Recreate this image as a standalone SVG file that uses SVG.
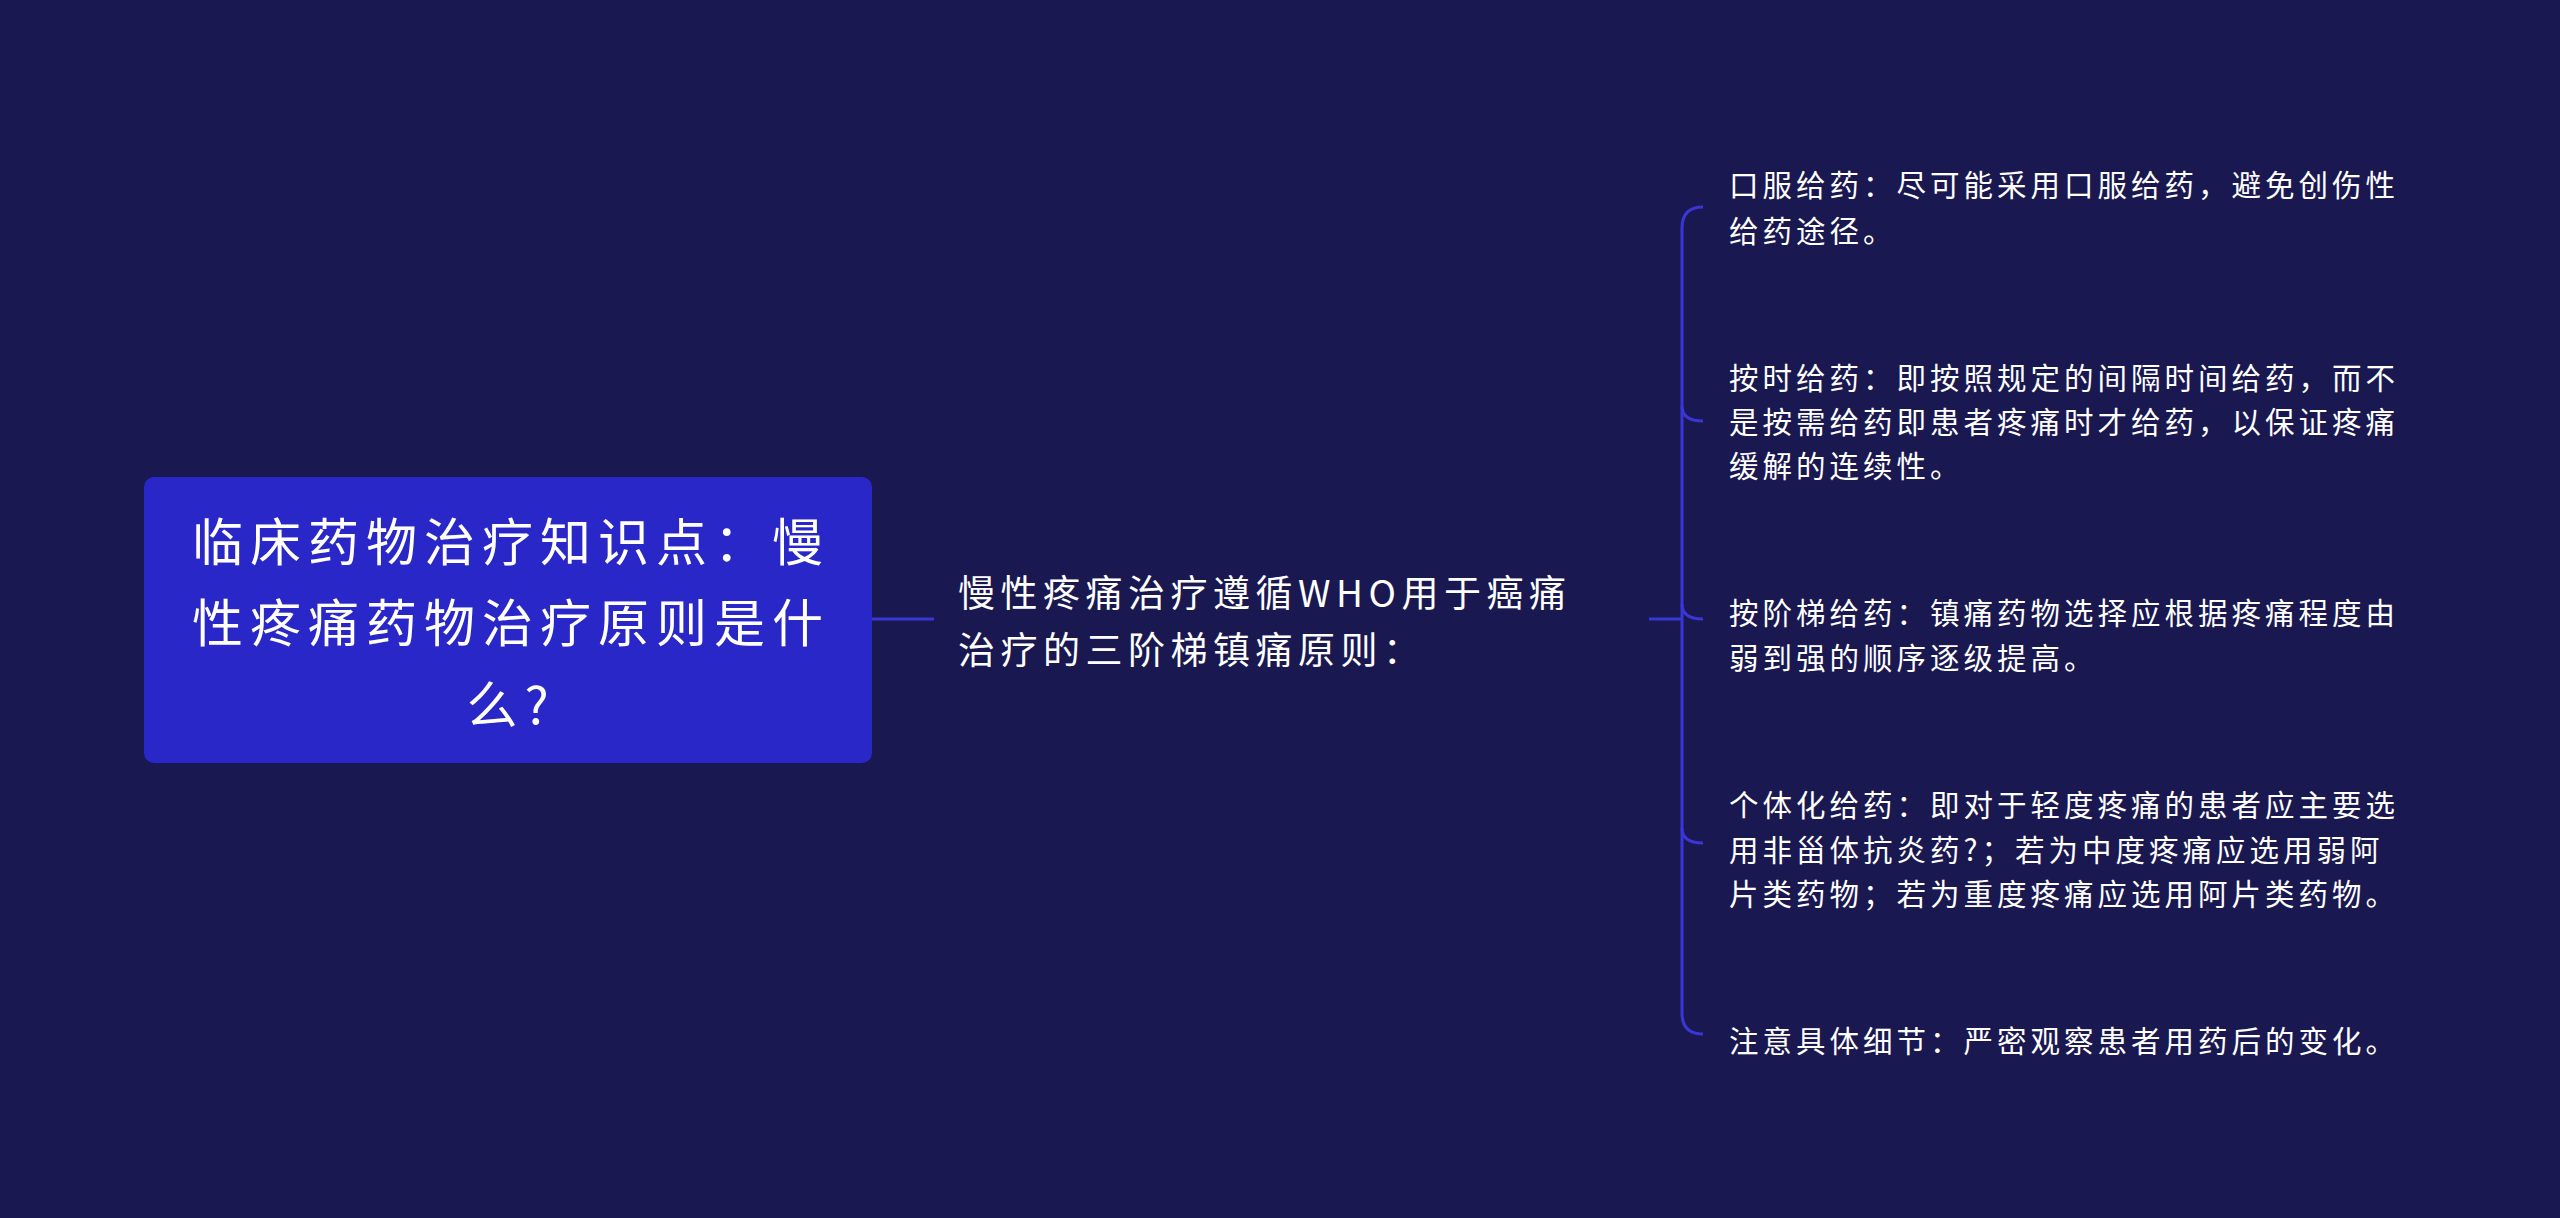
<svg xmlns="http://www.w3.org/2000/svg" width="2560" height="1218" viewBox="0 0 2560 1218">
<style>
text{font-family:"Noto Sans CJK SC","Noto Sans",sans-serif;fill:#fff;dominant-baseline:central}
.r{font-size:51px;letter-spacing:7px}
.m{font-size:37px;letter-spacing:5.5px}
.l{font-size:29.5px;letter-spacing:4px}
.c{fill:none;stroke:#3a36d6;stroke-width:3}
</style>
<rect width="2560" height="1218" fill="#1a1850"/>
<g id="connectors">
<path class="c" d="M872 619H934"/>
<path class="c" d="M1649 619H1682"/>
<path class="c" d="M1703 207Q1682 207 1682 228V1013Q1682 1034 1703 1034"/>
<path class="c" d="M1682 406Q1682 421 1703 421"/>
<path class="c" d="M1682 604Q1682 619 1703 619"/>
<path class="c" d="M1682 828Q1682 843 1703 843"/>
</g>
<g id="root">
<rect x="144" y="477" width="728" height="286" rx="10" fill="#2a27c8"/>
<text class="r" x="511" y="539" text-anchor="middle">临床药物治疗知识点：慢</text>
<text class="r" x="511" y="620" text-anchor="middle">性疼痛药物治疗原则是什</text>
<text class="r" x="511" y="702" text-anchor="middle">么?</text>
</g>
<g id="middle">
<text class="m" x="958" y="591">慢性疼痛治疗遵循WHO用于癌痛</text>
<text class="m" x="958" y="648">治疗的三阶梯镇痛原则：</text>
</g>
<g id="leaf1"><text class="l" x="1729" y="183">口服给药：尽可能采用口服给药，避免创伤性</text><text class="l" x="1729" y="229">给药途径。</text></g>
<g id="leaf2"><text class="l" x="1729" y="376">按时给药：即按照规定的间隔时间给药，而不</text><text class="l" x="1729" y="420">是按需给药即患者疼痛时才给药，以保证疼痛</text><text class="l" x="1729" y="464">缓解的连续性。</text></g>
<g id="leaf3"><text class="l" x="1729" y="611">按阶梯给药：镇痛药物选择应根据疼痛程度由</text><text class="l" x="1729" y="656">弱到强的顺序逐级提高。</text></g>
<g id="leaf4"><text class="l" x="1729" y="803">个体化给药：即对于轻度疼痛的患者应主要选</text><text class="l" x="1729" y="848">用非甾体抗炎药?；若为中度疼痛应选用弱阿</text><text class="l" x="1729" y="892">片类药物；若为重度疼痛应选用阿片类药物。</text></g>
<g id="leaf5"><text class="l" x="1729" y="1039">注意具体细节：严密观察患者用药后的变化。</text></g>
</svg>
